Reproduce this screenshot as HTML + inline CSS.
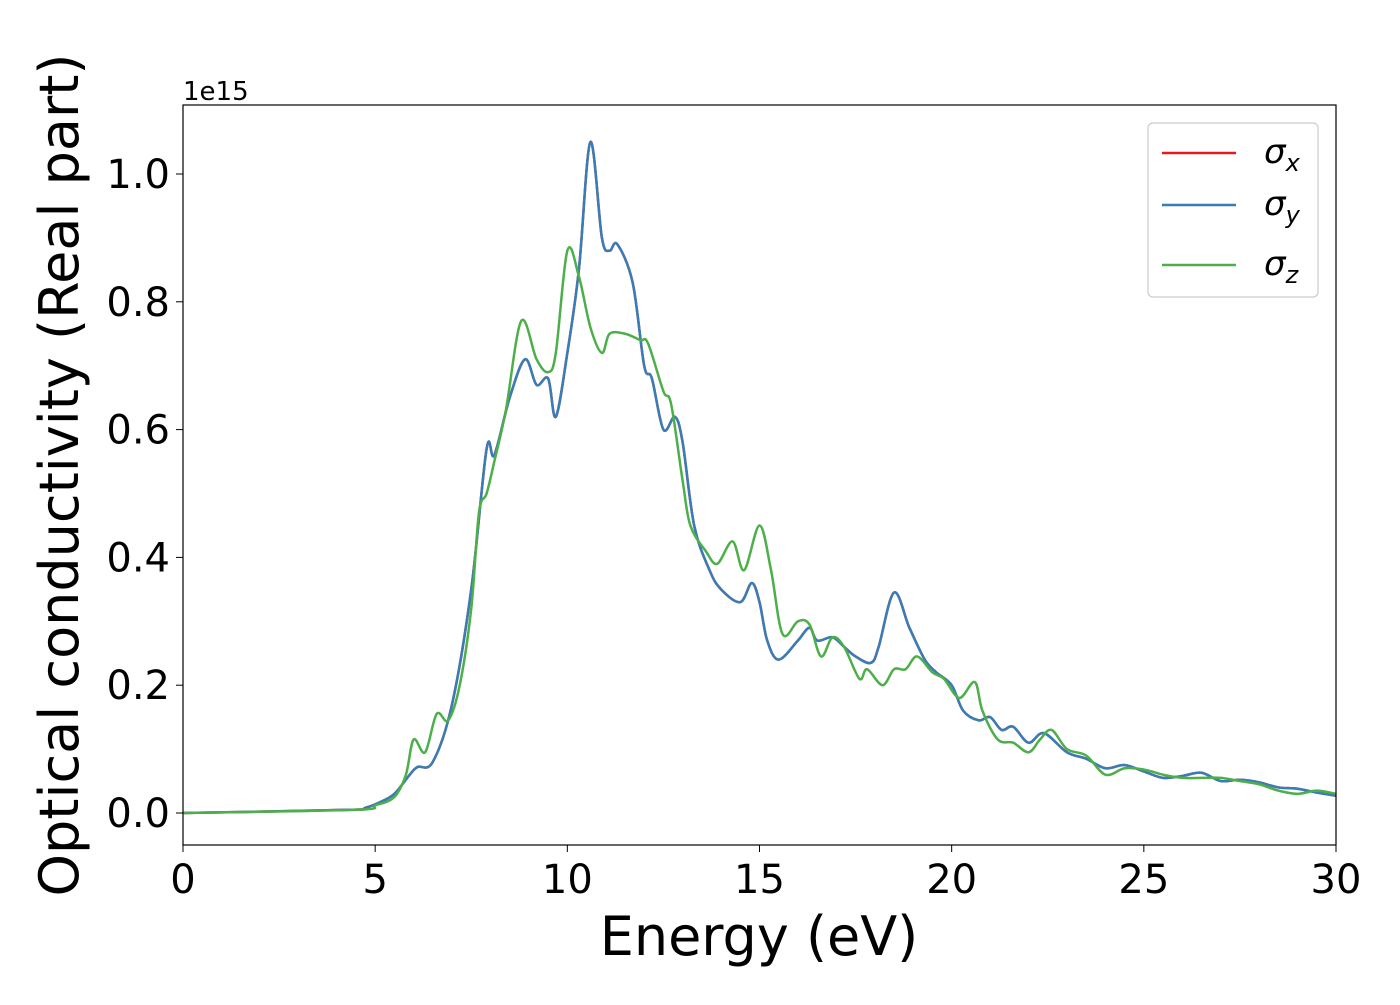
<!DOCTYPE html>
<html><head><meta charset="utf-8"><style>
body{margin:0;background:#fff;font-family:"Liberation Sans","DejaVu Sans",sans-serif}
svg text{font-family:"DejaVu Sans","Liberation Sans",sans-serif;fill:#000}
</style></head><body>
<svg id="chart" width="1400" height="1000" xmlns="http://www.w3.org/2000/svg">
<rect x="0" y="0" width="1400" height="1000" fill="#fff"/>
<g id="plot"></g>
<rect x="183" y="105" width="1153" height="740" fill="none" stroke="#000" stroke-width="1.2"/>
<g id="xticks"></g>
<g id="yticks"></g>
<text x="183" y="100" font-size="26">1e15</text>
<text x="759" y="955" font-size="54" text-anchor="middle">Energy (eV)</text>
<text transform="translate(78,475) rotate(-90)" font-size="54" text-anchor="middle">Optical conductivity (Real part)</text>
<g>
<rect x="1148" y="123" width="170" height="174" rx="5" fill="#fff" stroke="#ccc" stroke-width="1.2"/>
<line x1="1162" y1="153" x2="1236" y2="153" stroke="#e41a1c" stroke-width="2.5"/>
<text x="1264" y="163" font-size="34" font-style="italic">σ<tspan font-size="24" dy="8">x</tspan></text>
<line x1="1162" y1="205" x2="1236" y2="205" stroke="#377eb8" stroke-width="2.5"/>
<text x="1264" y="215" font-size="34" font-style="italic">σ<tspan font-size="24" dy="8">y</tspan></text>
<line x1="1162" y1="265" x2="1236" y2="265" stroke="#4daf4a" stroke-width="2.5"/>
<text x="1264" y="275" font-size="34" font-style="italic">σ<tspan font-size="24" dy="8">z</tspan></text>
</g>
</svg>
<script>
const energyB=[0,4.35,4.74,5.13,5.5,5.9,6.1,6.5,7.0,7.5,7.9,8.1,8.5,8.9,9.2,9.5,9.7,10.0,10.3,10.6,10.9,11.1,11.3,11.7,12.0,12.2,12.5,12.8,13.0,13.3,13.7,14.0,14.5,14.8,15.0,15.2,15.5,16.0,16.3,16.5,16.9,17.2,17.5,17.9,18.1,18.5,18.9,19.3,19.6,20.0,20.3,20.7,21.0,21.3,21.6,22.0,22.4,23.0,23.5,24.0,24.5,25.0,25.5,26.0,26.5,27.0,27.5,28.0,28.5,29.0,29.5,30];
const sigmaY=[0,0.005,0.008,0.017,0.03,0.06,0.072,0.08,0.17,0.35,0.57,0.56,0.65,0.71,0.67,0.68,0.62,0.72,0.85,1.05,0.90,0.88,0.89,0.83,0.70,0.68,0.60,0.62,0.58,0.45,0.38,0.35,0.33,0.36,0.33,0.27,0.24,0.27,0.29,0.27,0.275,0.26,0.245,0.235,0.26,0.345,0.29,0.24,0.22,0.20,0.16,0.145,0.15,0.13,0.135,0.11,0.125,0.095,0.085,0.07,0.075,0.065,0.055,0.058,0.063,0.05,0.052,0.048,0.04,0.038,0.032,0.027];
const sigmaX=sigmaY.slice();
const energyZ=[0,4.5,5.0,5.5,5.8,6.0,6.3,6.6,6.9,7.2,7.5,7.7,7.9,8.1,8.4,8.8,9.2,9.5,9.7,10.0,10.3,10.6,10.9,11.1,11.5,11.9,12.1,12.5,12.7,13.0,13.2,13.6,13.9,14.3,14.6,15.0,15.3,15.6,16.0,16.3,16.6,16.9,17.2,17.6,17.8,18.2,18.5,18.8,19.1,19.5,19.8,20.2,20.6,20.8,21.2,21.6,22.0,22.3,22.6,23.0,23.5,24.0,24.5,25.0,25.5,26.0,26.5,27.0,27.5,28.0,28.5,29.0,29.5,30];
const sigmaZ=[0,0.005,0.012,0.025,0.06,0.115,0.095,0.155,0.145,0.2,0.32,0.47,0.5,0.55,0.63,0.77,0.71,0.69,0.72,0.88,0.84,0.76,0.72,0.75,0.75,0.74,0.735,0.66,0.64,0.52,0.45,0.41,0.39,0.425,0.38,0.45,0.38,0.28,0.30,0.295,0.245,0.275,0.26,0.21,0.225,0.2,0.225,0.225,0.245,0.22,0.21,0.18,0.205,0.16,0.115,0.11,0.095,0.115,0.13,0.1,0.09,0.06,0.07,0.068,0.06,0.055,0.055,0.055,0.05,0.045,0.035,0.03,0.035,0.03];
const xTicks=[0,5,10,15,20,25,30];
const yTicks=[0,0.2,0.4,0.6,0.8,1.0];
const NS="http://www.w3.org/2000/svg";
const X0=183,X1=1336,Y0=813,Y1=174;
function sx(e){return X0+(e/30)*(X1-X0);}
function sy(v){return Y0+(v/1.0)*(Y1-Y0);}
function pathFor(xs,ys){
  const p=xs.map((x,i)=>[sx(x),sy(ys[i])]);
  let d="M"+p[0][0]+","+p[0][1];
  for(let i=0;i<p.length-1;i++){
    const a=p[Math.max(0,i-1)],b=p[i],c=p[i+1],e=p[Math.min(p.length-1,i+2)];
    const c1=[b[0]+(c[0]-a[0])/6,b[1]+(c[1]-a[1])/6],c2=[c[0]-(e[0]-b[0])/6,c[1]-(e[1]-b[1])/6];
    d+=" C"+c1+" "+c2+" "+c;
  }
  return d;
}
const plot=document.getElementById("plot");
function addLine(xs,ys,color,name){
  const el=document.createElementNS(NS,"path");
  el.setAttribute("d",pathFor(xs,ys));
  el.setAttribute("fill","none");el.setAttribute("stroke",color);el.setAttribute("stroke-width","2.5");
  
  
  plot.appendChild(el);
}
addLine(energyB,sigmaX,"#e41a1c","series-sigma-x");
addLine(energyB,sigmaY,"#377eb8","series-sigma-y");
addLine(energyZ,sigmaZ,"#4daf4a","series-sigma-z");
const xg=document.getElementById("xticks");
xTicks.forEach(t=>{
  const l=document.createElementNS(NS,"line");
  l.setAttribute("x1",sx(t));l.setAttribute("x2",sx(t));l.setAttribute("y1",845);l.setAttribute("y2",852);l.setAttribute("stroke","#000");
  
  
  xg.appendChild(l);
  const tx=document.createElementNS(NS,"text");
  tx.setAttribute("x",sx(t));tx.setAttribute("y",893);tx.setAttribute("font-size","40");tx.setAttribute("text-anchor","middle");
  tx.textContent=t;
  
  
  xg.appendChild(tx);
});
const yg=document.getElementById("yticks");
yTicks.forEach(t=>{
  const l=document.createElementNS(NS,"line");
  l.setAttribute("x1",176);l.setAttribute("x2",183);l.setAttribute("y1",sy(t));l.setAttribute("y2",sy(t));l.setAttribute("stroke","#000");
  
  
  yg.appendChild(l);
  const tx=document.createElementNS(NS,"text");
  tx.setAttribute("x",170);tx.setAttribute("y",sy(t)+14);tx.setAttribute("font-size","40");tx.setAttribute("text-anchor","end");
  tx.textContent=t.toFixed(1);
  
  
  yg.appendChild(tx);
});
</script>
</body></html>
